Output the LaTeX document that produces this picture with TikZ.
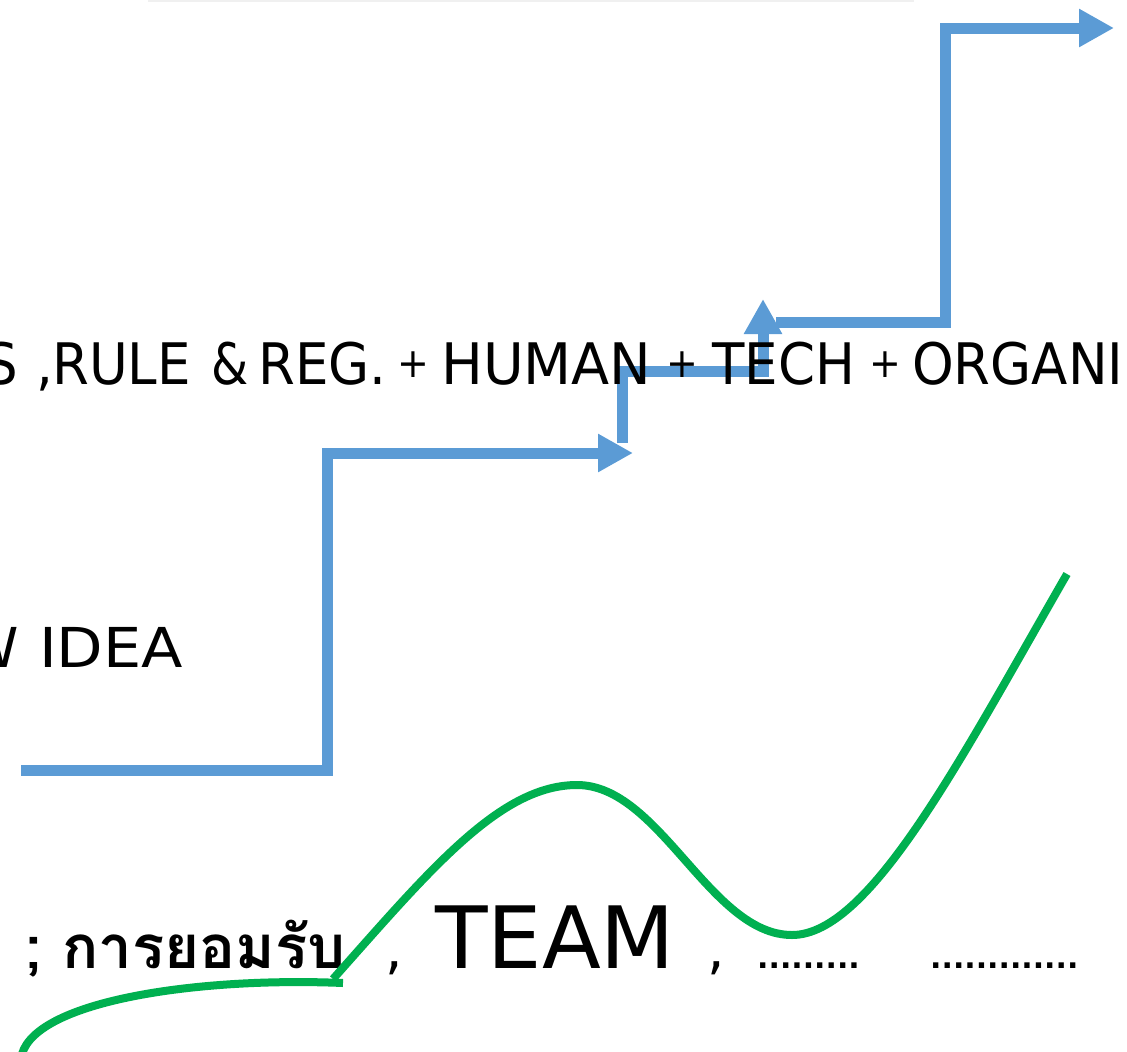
\documentclass[tikz,border=0pt]{standalone}
\usepackage{fontspec}
\setmainfont{DejaVu Sans}
\newfontfamily\thaifont[Script=Thai]{Loma}
\usetikzlibrary{arrows.meta}
\definecolor{flowblue}{RGB}{91,155,213}
\definecolor{curvegreen}{RGB}{0,176,80}
\newcommand\placeat[2]{\makebox[0pt][l]{\hspace{#1pt}#2}}
\newcommand\plussign{\raisebox{6pt}{\fontsize{38}{44}\selectfont +}}
\begin{document}
\begin{tikzpicture}[x=1pt,y=-1pt,
  flow/.style={draw=flowblue, line width=11pt, line join=miter, -{Triangle[length=35pt,width=36pt]}},
  curve/.style={draw=curvegreen, line width=8pt},
  label/.style={inner sep=0pt, anchor=base west, text=black}]
\useasboundingbox (0,0) rectangle (1127,1052);
% faint top edge
\draw[gray!12, line width=2pt] (148,0.5) -- (914,0.5);
% blue step arrows
\coordinate (a0) at (21,770);
\coordinate (a1) at (327,770);
\coordinate (a2) at (327,453);
\coordinate (a3) at (633,453);
\draw[flow] (a0) -- (a1) -- (a2) -- (a3);
\coordinate (b0) at (622,443);
\coordinate (b1) at (622,371);
\coordinate (b2) at (763,371);
\coordinate (b3) at (763,299);
\draw[flow] (b0) -- (b1) -- (b2) -- (b3);
\coordinate (c0) at (776,322);
\coordinate (c1) at (945,322);
\coordinate (c2) at (945,28);
\coordinate (c3) at (1114,28);
\draw[flow] (c0) -- (c1) -- (c2) -- (c3);
% texts
\node[label] (rules) at (-16,384) {\scalebox{1}[1.08]{\fontsize{53}{64}\selectfont
  \placeat{0}{S }\placeat{52}{, }\placeat{68}{RULE }\placeat{227}{\scalebox{0.9}[1]{\&} }%
  \placeat{274}{REG. }\placeat{413}{\plussign{} }\placeat{457}{\scalebox{1.05}[1]{HUMAN} }\placeat{682}{\plussign{} }%
  \placeat{728}{TECH }\placeat{885}{\plussign{} }\hspace{928pt}ORGANI}};
\node[label] (idea) at (-36,667) {\fontsize{55}{66}\selectfont W\hspace{3pt} \scalebox{1.1}[1]{IDEA}};
\node[label] (accept) at (25,968) {\thaifont\bfseries\fontsize{60}{72}\selectfont ; การยอมรับ};
\node[label] (team) at (385,968) {\fontsize{55}{66}\selectfont ,\hspace{15pt} {\fontsize{86}{100}\selectfont TEAM}\hspace{15pt} ,};
\node[label] (dotsa) at (757,968) {\bfseries\fontsize{30}{38}\selectfont .........};
\node[label] (dotsb) at (930,968) {\bfseries\fontsize{30}{38}\selectfont .............};
% green curves
\coordinate (g0) at (22,1054);
\coordinate (g1) at (343,983);
\draw[curve] (g0) .. controls (38,1000) and (200,977) .. (g1);
\coordinate (h0) at (333,979);
\coordinate (h1) at (577,785);
\coordinate (h2) at (792,935);
\coordinate (h3) at (1067,574);
\draw[curve] (h0) .. controls (430,870) and (500,785) .. (h1)
  .. controls (660,785) and (710,935) .. (h2)
  .. controls (870,935) and (960,760) .. (h3);
\end{tikzpicture}
\end{document}
